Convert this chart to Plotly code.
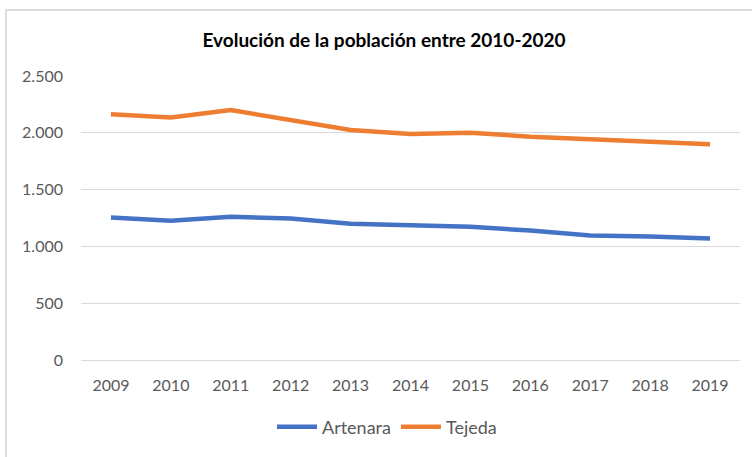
import plotly.graph_objects as go

years = ["2009", "2010", "2011", "2012", "2013", "2014", "2015", "2016", "2017", "2018", "2019"]
artenara = [1254, 1225, 1260, 1245, 1200, 1182, 1173, 1139, 1096, 1087, 1070]
tejeda = [2163, 2134, 2200, 2110, 2024, 1990, 2001, 1966, 1946, 1923, 1900]

FONT = "Lato"
W, H = 752, 457
L, R, T, B = 81, 12, 76, 93
PW, PH = W - L - R, H - T - B

fig = go.Figure()
fig.add_trace(go.Scatter(x=years, y=artenara, mode="lines", name="Artenara",
                         line=dict(color="#4472C4", width=4.5)))
fig.add_trace(go.Scatter(x=years, y=tejeda, mode="lines", name="Tejeda",
                         line=dict(color="#ED7D31", width=4.5)))

fig.update_layout(
    width=W, height=H,
    margin=dict(l=L, r=R, t=T, b=B),
    paper_bgcolor="white", plot_bgcolor="white",
    separators=",.",
    font=dict(family=FONT, size=16, color="#595959"),
    title=dict(text="<b>Evolución de la población entre 2010-2020</b>",
               x=384 / W, xanchor="center", y=1 - 40 / H, yanchor="middle",
               font=dict(family=FONT, size=19, color="#000000")),
    xaxis=dict(type="category", range=[-0.5, 10.5], showgrid=False, showline=False,
               ticks="", zeroline=False, ticklabelstandoff=14,
               tickfont=dict(size=16, color="#595959")),
    yaxis=dict(range=[0, 2500], dtick=500, tickformat=",d", showgrid=True,
               gridcolor="#D9D9D9", gridwidth=1, zeroline=True, zerolinecolor="#D9D9D9",
               zerolinewidth=1, showline=False, ticks="", ticklabelstandoff=17,
               tickfont=dict(size=16, color="#595959")),
    legend=dict(orientation="h", x=(387 - L) / PW, xanchor="center",
                y=(T + PH - 432) / PH, yanchor="middle",
                font=dict(size=18, color="#595959"), itemwidth=40),
    showlegend=True,
)
fig.add_shape(type="rect", xref="paper", yref="paper",
              x0=(6 - L) / PW, x1=1.2, y0=-0.5, y1=1 + (T - 9) / PH,
              line=dict(color="#D0D0D0", width=1.5), fillcolor="rgba(0,0,0,0)", layer="below")

fig.write_html("out.html", config={"displayModeBar": False},
               post_script="document.body.style.margin='0';")
